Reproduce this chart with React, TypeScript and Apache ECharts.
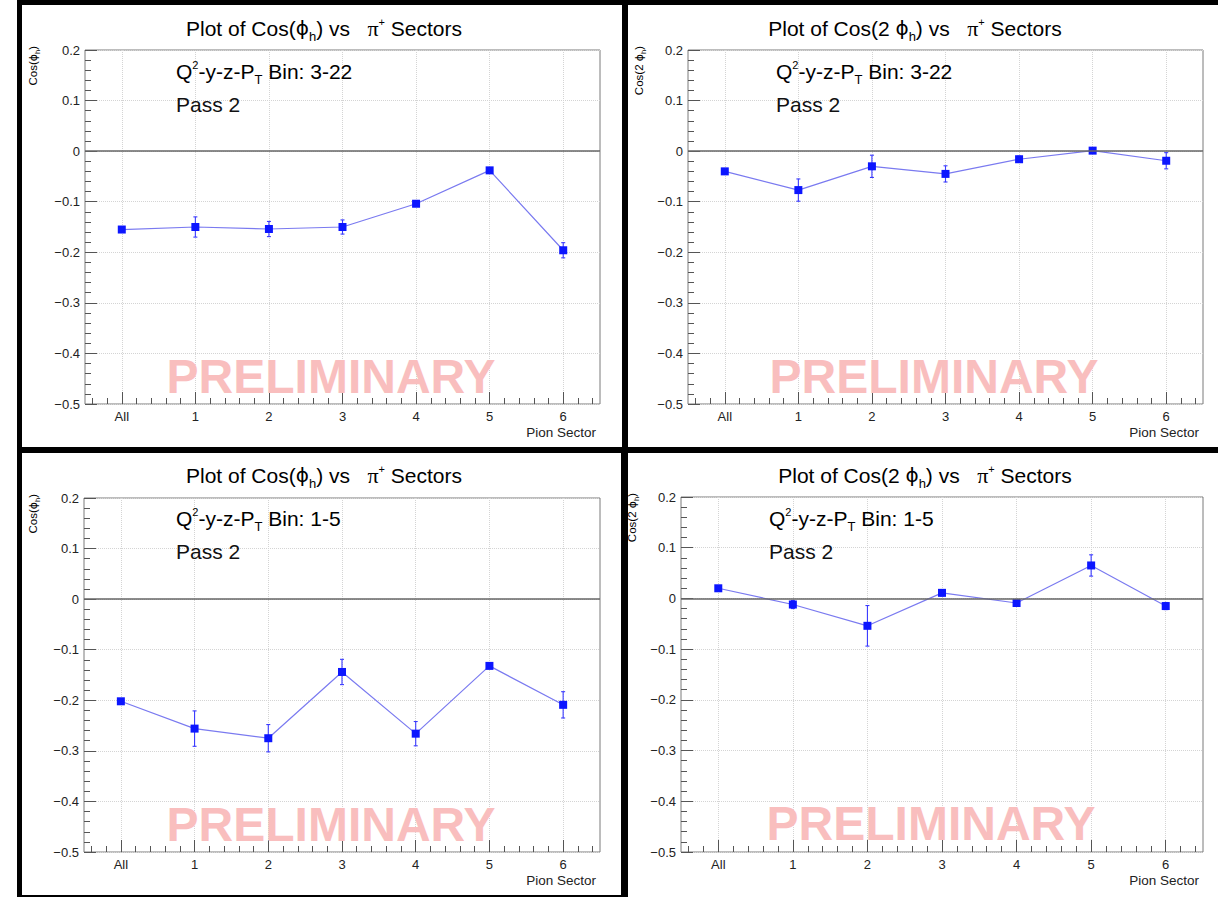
import React, { useEffect, useRef } from 'react';
import * as echarts from 'echarts';

// Sector categories along the x axis (position 0 = all sectors combined)
const sectorLabels = ['All', '1', '2', '3', '4', '5', '6'];
const sectorPos = [0, 1, 2, 3, 4, 5, 6];

// Cos(phi_h), Q2-y-z-PT bin 3-22
const cosPhiBin322 = [-0.155, -0.150, -0.154, -0.150, -0.104, -0.038, -0.196];
const cosPhiBin322Err = [0.004, 0.020, 0.015, 0.014, 0.005, 0.004, 0.015];

// Cos(2 phi_h), Q2-y-z-PT bin 3-22
const cos2PhiBin322 = [-0.040, -0.077, -0.030, -0.045, -0.016, 0.001, -0.019];
const cos2PhiBin322Err = [0.004, 0.022, 0.022, 0.016, 0.006, 0.004, 0.016];

// Cos(phi_h), Q2-y-z-PT bin 1-5
const cosPhiBin15 = [-0.202, -0.256, -0.275, -0.144, -0.266, -0.132, -0.209];
const cosPhiBin15Err = [0.004, 0.035, 0.027, 0.025, 0.024, 0.005, 0.026];

// Cos(2 phi_h), Q2-y-z-PT bin 1-5
const cos2PhiBin15 = [0.020, -0.012, -0.054, 0.011, -0.009, 0.065, -0.015];
const cos2PhiBin15Err = [0.004, 0.008, 0.040, 0.006, 0.004, 0.021, 0.007];

const yTicks = { min: -0.5, max: 0.2, step: 0.1 };
const xRange = { min: -0.5, max: 6.5 };

const FONT = 'Liberation Sans, Arial, Helvetica, sans-serif';

type Panel = {
  values: number[];
  errors: number[];
  harmonic: '' | '2 ';
  bin: string;
  grid: { left: number; top: number; width: number; height: number };
  box: { x: number; y: number; w: number; h: number };
  titleX: number;
  titleY: number;
  textX: number;
  axisTitleX: number;
  prelimX: number;
};

const panels: Panel[] = [
  {
    values: cosPhiBin322, errors: cosPhiBin322Err, harmonic: '', bin: '3-22',
    grid: { left: 85, top: 50, width: 515, height: 354 },
    box: { x: 22, y: 5, w: 600, h: 442 },
    titleX: 324, titleY: 28, textX: 176, axisTitleX: 33, prelimX: 331,
  },
  {
    values: cos2PhiBin322, errors: cos2PhiBin322Err, harmonic: '2 ', bin: '3-22',
    grid: { left: 688, top: 50, width: 515, height: 354 },
    box: { x: 628, y: 5, w: 590, h: 442 },
    titleX: 915, titleY: 28, textX: 776, axisTitleX: 639, prelimX: 934,
  },
  {
    values: cosPhiBin15, errors: cosPhiBin15Err, harmonic: '', bin: '1-5',
    grid: { left: 84, top: 498, width: 516, height: 354 },
    box: { x: 22, y: 453, w: 599, h: 442 },
    titleX: 324, titleY: 475, textX: 176, axisTitleX: 33, prelimX: 331,
  },
  {
    values: cos2PhiBin15, errors: cos2PhiBin15Err, harmonic: '2 ', bin: '1-5',
    grid: { left: 681, top: 497, width: 522, height: 355 },
    box: { x: 628, y: 453, w: 590, h: 444 },
    titleX: 925, titleY: 475, textX: 769, axisTitleX: 632, prelimX: 931,
  },
];

// Minor tick positions on the sector axis (every 0.2, skipping the integer sectors)
const minorPos: number[] = [];
for (let k = -2; k <= 32; k++) {
  if (k % 5 !== 0) minorPos.push(k / 5);
}

const fmtY = (v: number) => {
  const r = Math.round(v * 10) / 10;
  if (r === 0) return '0';
  return r.toFixed(1).replace('-', '\u2212');
};

const richMain = {
  n: { fontSize: 21, fontFamily: FONT, color: '#111' },
  g: { fontSize: 20, fontFamily: 'DejaVu Sans', color: '#111' },
  s: { fontSize: 13, fontFamily: FONT, color: '#111', padding: [16, 0, 0, 0] },
  sup: { fontSize: 11, fontFamily: FONT, color: '#111', padding: [0, 0, 12, 0] },
  p: { fontSize: 22, fontFamily: 'Liberation Serif, serif', color: '#111' },
};

const richAxis = {
  a: { fontSize: 11.5, fontFamily: FONT, color: '#222' },
  g: { fontSize: 11, fontFamily: 'DejaVu Sans', color: '#222' },
  s: { fontSize: 7.5, fontFamily: FONT, color: '#222', padding: [8, 0, 0, 0] },
};

export default function App() {
  const ref = useRef<HTMLDivElement>(null);

  useEffect(() => {
    if (!ref.current) return;
    const chart = echarts.init(ref.current, undefined, { renderer: 'svg' });

    const grids: any[] = [];
    const xAxes: any[] = [];
    const minorXAxes: any[] = [];
    const yAxes: any[] = [];
    const series: any[] = [];
    const graphics: any[] = [];

    // black frame behind the four white panels
    graphics.push({
      type: 'rect', z: -10, silent: true,
      shape: { x: 17, y: 0, width: 1201, height: 897 },
      style: { fill: '#000' },
    });

    panels.forEach((p, i) => {
      grids.push({
        ...p.grid,
        show: true,
        borderColor: '#7a7a7a',
        borderWidth: 1,
        backgroundColor: 'transparent',
        containLabel: false,
      });

      xAxes.push({
        gridIndex: i,
        type: 'value',
        position: 'bottom',
        min: xRange.min,
        max: xRange.max,
        axisLine: { show: false, onZero: false },
        axisTick: {
          show: true, inside: true, length: 12, customValues: sectorPos,
          lineStyle: { color: '#555', width: 1 },
        },
        axisLabel: {
          show: true, customValues: sectorPos, margin: 6,
          fontSize: 13, fontFamily: FONT, color: '#222',
          formatter: (v: number) => sectorLabels[Math.round(v)] ?? '',
        },
        splitLine: { show: true, lineStyle: { type: 'dotted', color: '#d4d4d4', width: 1 } },
      });

      minorXAxes.push({
        gridIndex: i,
        type: 'value',
        position: 'bottom',
        min: xRange.min,
        max: xRange.max,
        axisLine: { show: false, onZero: false },
        axisTick: {
          show: true, inside: true, length: 6, customValues: minorPos,
          lineStyle: { color: '#555', width: 1 },
        },
        axisLabel: { show: false },
        splitLine: { show: false },
      });

      yAxes.push({
        gridIndex: i,
        type: 'value',
        position: 'left',
        min: yTicks.min,
        max: yTicks.max,
        interval: yTicks.step,
        axisLine: { show: false, onZero: false },
        axisTick: { show: true, inside: true, length: 12, lineStyle: { color: '#555', width: 1 } },
        minorTick: { show: true, splitNumber: 5, length: 6, lineStyle: { color: '#555', width: 1 } },
        axisLabel: {
          show: true, margin: 5, fontSize: 13, fontFamily: FONT, color: '#222',
          formatter: fmtY, showMinLabel: true, showMaxLabel: true,
        },
        splitLine: { show: true, lineStyle: { type: 'dotted', color: '#d4d4d4', width: 1 } },
      });

      const pts = p.values.map((v, k) => [sectorPos[k], v]);
      const bars = p.values.map((v, k) => [sectorPos[k], v - p.errors[k], v + p.errors[k]]);

      series.push({
        type: 'line',
        xAxisIndex: i,
        yAxisIndex: i,
        data: pts,
        symbol: 'rect',
        symbolSize: 8,
        z: 4,
        lineStyle: { color: '#7a7af0', width: 1.2 },
        itemStyle: { color: '#0c16ff' },
        markLine: {
          silent: true,
          symbol: 'none',
          label: { show: false },
          lineStyle: { color: '#666', width: 1.6, type: 'solid' },
          data: [{ yAxis: 0 }],
        },
      });

      series.push({
        type: 'custom',
        xAxisIndex: i,
        yAxisIndex: i,
        z: 3,
        data: bars,
        encode: { x: 0, y: [1, 2] },
        renderItem: (_params: any, api: any) => {
          const x = api.value(0);
          const top = api.coord([x, api.value(2)]);
          const bot = api.coord([x, api.value(1)]);
          const st = { stroke: '#3a3aff', lineWidth: 1.1 };
          const cap = 2;
          return {
            type: 'group',
            children: [
              { type: 'line', shape: { x1: top[0], y1: top[1], x2: bot[0], y2: bot[1] }, style: st },
              { type: 'line', shape: { x1: top[0] - cap, y1: top[1], x2: top[0] + cap, y2: top[1] }, style: st },
              { type: 'line', shape: { x1: bot[0] - cap, y1: bot[1], x2: bot[0] + cap, y2: bot[1] }, style: st },
            ],
          };
        },
      });

      // white panel
      graphics.push({
        type: 'rect', z: -9, silent: true,
        shape: { x: p.box.x, y: p.box.y, width: p.box.w, height: p.box.h },
        style: { fill: '#fff' },
      });

      // title
      graphics.push({
        type: 'text', z: 10, x: p.titleX, y: p.titleY,
        style: {
          text: `{n|Plot of Cos(${p.harmonic}}{g|\u03d5}{s|h}{n|) vs   }{p|\u03c0}{sup|+}{n| Sectors}`,
          rich: richMain, align: 'center', verticalAlign: 'middle',
        },
      });

      // bin label and pass
      graphics.push({
        type: 'text', z: 10, x: p.textX, y: p.titleY + 43,
        style: {
          text: `{n|Q}{sup|2}{n|-y-z-P}{s|T}{n| Bin: ${p.bin}}`,
          rich: richMain, align: 'left', verticalAlign: 'middle',
        },
      });
      graphics.push({
        type: 'text', z: 10, x: p.textX, y: p.titleY + 76,
        style: { text: 'Pass 2', font: `21px ${FONT}`, fill: '#111', align: 'left', verticalAlign: 'middle' },
      });

      // y-axis title
      graphics.push({
        type: 'text', z: 10, x: p.axisTitleX, y: p.grid.top - 4, rotation: Math.PI / 2,
        style: {
          text: `{a|Cos(${p.harmonic}}{g|\u03d5}{s|h}{a|)}`,
          rich: richAxis, align: 'right', verticalAlign: 'middle',
        },
      });

      // x-axis title
      graphics.push({
        type: 'text', z: 10, x: p.grid.left + p.grid.width - 4, y: p.grid.top + p.grid.height + 28,
        style: { text: 'Pion Sector', font: `13.5px ${FONT}`, fill: '#222', align: 'right', verticalAlign: 'middle' },
      });

      // watermark
      graphics.push({
        type: 'text', z: 1, x: p.prelimX, y: p.grid.top + 326,
        style: {
          text: 'PRELIMINARY', font: `bold 48px ${FONT}`, fill: '#f9bebe',
          align: 'center', verticalAlign: 'middle',
        },
      });
    });

    chart.setOption({
      animation: false,
      backgroundColor: '#fff',
      grid: grids,
      xAxis: [...xAxes, ...minorXAxes],
      yAxis: yAxes,
      series,
      graphic: graphics,
    });

    return () => chart.dispose();
  }, []);

  return (
    <div
      ref={ref}
      style={{ position: 'fixed', left: 0, top: 0, width: 1218, height: 897, background: '#fff' }}
    />
  );
}
